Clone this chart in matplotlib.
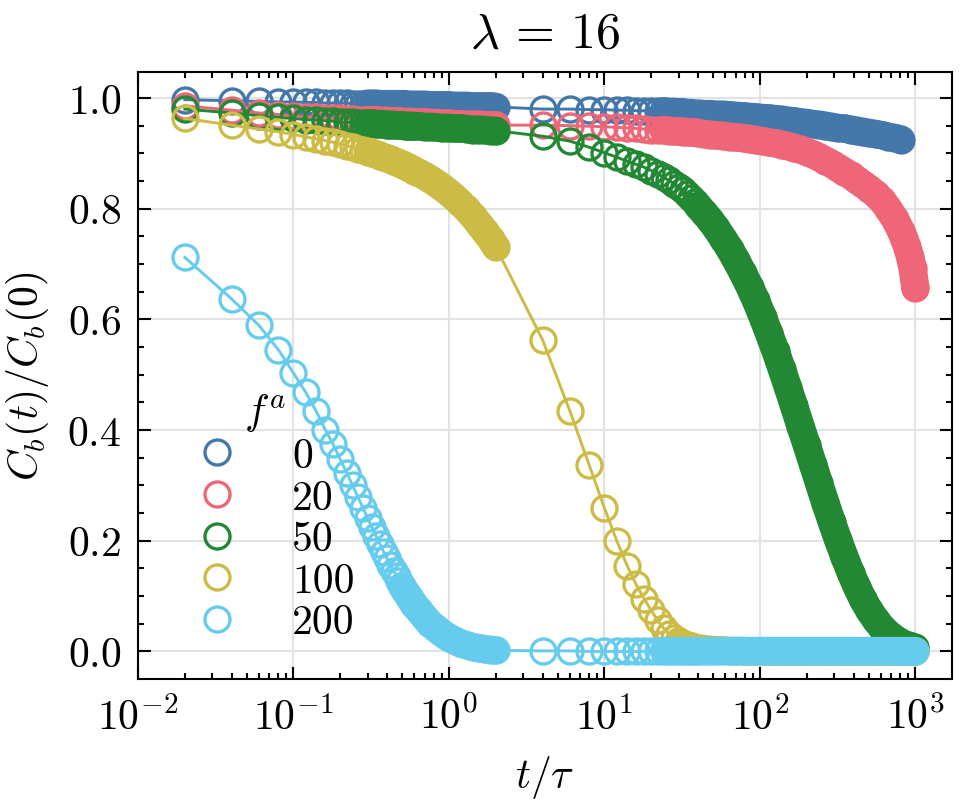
import matplotlib
matplotlib.use("Agg")
import matplotlib.pyplot as plt
import numpy as np
from matplotlib.ticker import AutoMinorLocator

# time grid (t / tau), same for every series
t_vals = [0.02, 0.04, 0.06, 0.08, 0.10, 0.12, 0.14, 0.16, 0.18,
          0.20, 0.22, 0.24, 0.26, 0.28, 0.30, 0.32, 0.34, 0.36, 0.38, 0.40,
          0.42, 0.44, 0.46, 0.48, 0.50, 0.52, 0.54, 0.56, 0.58, 0.60,
          0.64, 0.70, 0.76, 0.82, 0.90, 0.98, 1.08, 1.18, 1.30, 1.42, 1.56, 1.70, 1.86, 2.00,
          4, 6, 8, 10, 12, 14, 16, 18, 20, 22,
          24, 26, 28, 30, 32, 34, 36, 38, 40,
          44, 48, 52, 58, 64, 70, 78, 86, 94, 104, 114,
          126, 138, 152, 166, 182, 200, 220, 240, 264, 290,
          318, 350, 384, 420, 460, 506, 556, 610, 670, 736,
          808, 850, 888, 924, 960, 1000]

# C_b(t)/C_b(0) for each active force f^a (nan = no sample there)
cb_f0 = [0.997, 0.995, 0.994, 0.993, 0.993, 0.992, 0.992, 0.991, 0.991,
         0.991, 0.991, 0.990, 0.990, 0.990, 0.990, 0.990, 0.990, 0.989, 0.989, 0.989,
         0.989, 0.989, 0.989, 0.989, 0.989, 0.989, 0.988, 0.988, 0.988, 0.988,
         0.988, 0.988, 0.987, 0.987, 0.987, 0.987, 0.986, 0.986, 0.986, 0.985, 0.985, 0.985, 0.985, 0.984,
         0.980, 0.980, 0.979, 0.979, 0.978, 0.978, 0.977, 0.977, 0.977, 0.976,
         0.976, 0.975, 0.975, 0.974, 0.974, 0.973, 0.973, 0.972, 0.972,
         0.971, 0.971, 0.970, 0.970, 0.969, 0.968, 0.967, 0.966, 0.965, 0.964, 0.963,
         0.962, 0.961, 0.959, 0.958, 0.956, 0.955, 0.953, 0.952, 0.950, 0.948,
         0.946, 0.945, 0.943, 0.941, 0.939, 0.937, 0.935, 0.933, 0.930, 0.928,
         0.925, np.nan, np.nan, np.nan, np.nan, np.nan]

cb_f20 = [0.986, 0.978, 0.973, 0.970, 0.968, 0.966, 0.965, 0.964, 0.963,
          0.963, 0.962, 0.962, 0.961, 0.961, 0.960, 0.960, 0.960, 0.959, 0.959, 0.959,
          0.958, 0.958, 0.958, 0.958, 0.957, 0.957, 0.957, 0.957, 0.957, 0.956,
          0.956, 0.956, 0.955, 0.955, 0.954, 0.954, 0.953, 0.953, 0.952, 0.952, 0.952, 0.951, 0.951, 0.951,
          0.951, 0.950, 0.949, 0.948, 0.947, 0.946, 0.945, 0.944, 0.943, 0.942,
          0.942, 0.941, 0.940, 0.940, 0.939, 0.939, 0.938, 0.938, 0.937,
          0.935, 0.934, 0.933, 0.932, 0.930, 0.929, 0.928, 0.926, 0.924, 0.922, 0.920,
          0.918, 0.916, 0.913, 0.910, 0.907, 0.903, 0.898, 0.893, 0.887, 0.881,
          0.874, 0.867, 0.860, 0.852, 0.844, 0.836, 0.826, 0.815, 0.800, 0.782,
          0.760, 0.745, 0.730, 0.713, 0.692, 0.657]

cb_f50 = [0.980, 0.973, 0.968, 0.965, 0.963, 0.961, 0.960, 0.959, 0.958,
          0.957, 0.956, 0.956, 0.955, 0.955, 0.954, 0.954, 0.953, 0.953, 0.953, 0.952,
          0.952, 0.952, 0.951, 0.951, 0.951, 0.950, 0.950, 0.950, 0.950, 0.949,
          0.949, 0.948, 0.948, 0.947, 0.946, 0.946, 0.945, 0.945, 0.944, 0.943, 0.943, 0.942, 0.941, 0.941,
          0.931, 0.922, 0.911, 0.901, 0.893, 0.886, 0.880, 0.875, 0.869, 0.863,
          0.857, 0.851, 0.845, 0.839, 0.833, 0.826, 0.819, 0.812, 0.805,
          0.792, 0.779, 0.766, 0.746, 0.727, 0.708, 0.683, 0.659, 0.635, 0.605, 0.576,
          0.543, 0.511, 0.476, 0.443, 0.408, 0.373, 0.337, 0.304, 0.268, 0.234,
          0.202, 0.171, 0.142, 0.117, 0.094, 0.074, 0.057, 0.043, 0.032, 0.023,
          0.016, 0.013, 0.011, 0.010, 0.008, 0.007]

cb_f100 = [0.963, 0.951, 0.944, 0.939, 0.934, 0.930, 0.926, 0.923, 0.920,
           0.917, 0.914, 0.911, 0.908, 0.906, 0.903, 0.901, 0.898, 0.896, 0.893, 0.891,
           0.889, 0.886, 0.884, 0.882, 0.880, 0.878, 0.876, 0.873, 0.871, 0.869,
           0.865, 0.859, 0.853, 0.847, 0.839, 0.831, 0.821, 0.811, 0.799, 0.787, 0.773, 0.759, 0.745, 0.731,
           0.563, 0.434, 0.336, 0.259, 0.200, 0.155, 0.121, 0.095, 0.074, 0.056,
           0.042, 0.031, 0.024, 0.018, 0.014, 0.011, 0.009, 0.007, 0.006,
           0.004, 0.003, 0.002, 0.002, 0.001, 0.001, 0.001, 0.0, 0.0, 0.0, 0.0,
           0.0, 0.0, 0.0, 0.0, 0.0, 0.0, 0.0, 0.0, 0.0, 0.0,
           0.0, 0.0, 0.0, 0.0, 0.0, 0.0, 0.0, 0.0, 0.0, 0.0,
           0.0, 0.0, 0.0, 0.0, 0.0, 0.0]

cb_f200 = [0.712, 0.637, 0.589, 0.545, 0.503, 0.468, 0.434, 0.401, 0.374,
           0.347, 0.323, 0.300, 0.279, 0.259, 0.241, 0.224, 0.208, 0.194, 0.180, 0.168,
           0.156, 0.146, 0.136, 0.127, 0.118, 0.110, 0.103, 0.096, 0.090, 0.084,
           0.074, 0.061, 0.050, 0.042, 0.033, 0.026, 0.020, 0.015, 0.011, 0.008, 0.006, 0.004, 0.003, 0.002,
           0.001, 0.001, 0.0, 0.0, 0.0, 0.0, 0.0, 0.0, 0.0, 0.0,
           0.0, 0.0, 0.0, 0.0, 0.0, 0.0, 0.0, 0.0, 0.0,
           0.0, 0.0, 0.0, 0.0, 0.0, 0.0, 0.0, 0.0, 0.0, 0.0, 0.0,
           0.0, 0.0, 0.0, 0.0, 0.0, 0.0, 0.0, 0.0, 0.0, 0.0,
           0.0, 0.0, 0.0, 0.0, 0.0, 0.0, 0.0, 0.0, 0.0, 0.0,
           0.0, 0.0, 0.0, 0.0, 0.0, 0.0]

force_labels = ["0", "20", "50", "100", "200"]
series = [cb_f0, cb_f20, cb_f50, cb_f100, cb_f200]
colors = ["#4477AA", "#EE6677", "#228833", "#CCBB44", "#66CCEE"]

for s in series:
    assert len(s) == len(t_vals)

# where the original dense sampling makes the rings merge into a solid band
# (start of the band in the short-time and in the long-time part)
band_start = [(0.30, 24), (0.30, 24), (0.30, 40), (0.30, 30), (0.50, 24)]

# look of the "science" style, with computer modern fonts
plt.rcParams["font.family"] = "serif"
plt.rcParams["font.serif"] = ["cmr10"]
plt.rcParams["mathtext.fontset"] = "cm"
plt.rcParams["axes.formatter.use_mathtext"] = True
plt.rcParams["font.size"] = 10
plt.rcParams["axes.linewidth"] = 0.5

ms, mew = 6, 0.8

fig, ax = plt.subplots(figsize=(3.22, 2.683), dpi=300)
fig.subplots_adjust(left=138 / 966, right=952 / 966, top=1 - 73 / 805, bottom=1 - 680 / 805)

t = np.array(t_vals)
for lab, yl, c, (t1, t2) in zip(force_labels, series, colors, band_start):
    y = np.array(yl)
    ax.plot(t, y, "-", color=c, lw=0.7)
    # overlapping rings -> solid band as wide as one marker
    for m in ((t >= t1) & (t <= 2.0), (t >= t2) & ~np.isnan(y)):
        ax.plot(t[m], y[m], "-", color=c, lw=ms + mew,
                solid_capstyle="round", solid_joinstyle="round")
    ax.plot(t, y, "o", color=c, mfc="none", ms=ms, mew=mew, label=lab)

ax.set_xscale("log")
ax.set_xlim(1e-2, 1720)
ax.yaxis.set_minor_locator(AutoMinorLocator())

ax.tick_params(which="both", direction="in", top=True, right=True, width=0.5)
ax.tick_params(which="major", length=3, pad=4)
ax.tick_params(which="minor", length=1.5)
ax.grid(True, which="major", color="#e2e2e2", lw=0.5)
ax.set_axisbelow(True)

ax.set_xlabel(r"$t/\tau$")
ax.set_ylabel(r"$C_b(t)/C_b(0)$")
ax.set_title(r"$\lambda\,=\,16$", fontsize=12)

ax.legend(title=r"$f^a$", loc="lower left", frameon=False, fontsize=10,
          title_fontsize=10, labelspacing=0.1)

fig.savefig("out.png", dpi=300)
